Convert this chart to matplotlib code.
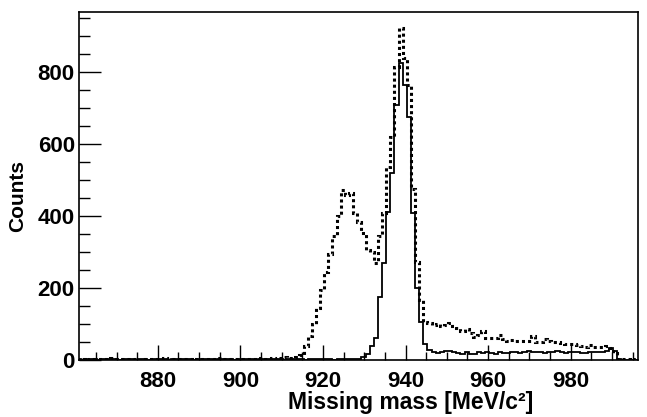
import numpy as np
import matplotlib
matplotlib.use("Agg")
import matplotlib.pyplot as plt
from matplotlib.ticker import MultipleLocator

# ---- data (1 MeV bins, first bin low edge) ----
first_edge = 860.3
bin_width = 1.0

dotted_low = [2, 3, 1, 2, 4, 3, 2, 3, 5, 2, 3, 2, 4, 3, 2, 1, 3, 2, 4, 3,
              2, 5, 3, 2, 3, 4, 2, 3, 1, 2, 3, 4, 2, 3, 5, 4, 3, 2, 3, 4,
              3, 2, 4, 3, 5, 3, 4, 6, 4, 5, 7, 6]
dotted_peak = [6, 8, 14, 38, 68, 100, 145, 195, 245, 295,
               345, 400, 472, 458, 463, 408, 384, 352, 305, 300,
               268, 343, 407, 537, 620, 815, 921, 840, 764, 475,
               273, 167, 106]
dotted_tail = [102, 98, 100, 94, 96, 102, 94, 88, 81, 85,
               74, 63, 70, 81, 60, 62, 60, 70, 57, 54,
               56, 54, 54, 52, 54, 67, 51, 51, 57, 54,
               49, 51, 47, 44, 44, 44, 41, 39, 37, 42,
               37, 35, 37, 39, 32, 19]
dotted_end = [3, 2, 2, 1, 2]

solid_low = [2, 1, 3, 2, 2, 1, 3, 2, 4, 2, 1, 2, 3, 2, 1, 2, 3, 1, 2, 2,
             3, 2, 1, 3, 2, 2, 4, 2, 1, 2, 3, 2, 2, 1, 3, 2, 2, 3, 1, 2,
             2, 3, 2, 1, 2, 3, 2, 2, 3, 2, 1, 2, 3, 2, 2, 1, 2, 3, 2, 2,
             3, 2, 1, 2, 3, 2, 2, 3]
solid_peak = [4, 7, 18, 40, 60, 176, 268, 412, 519, 708,
              825, 764, 676, 408, 199, 106, 45, 28]
solid_tail = [21, 20, 23, 24, 26, 21, 20, 18, 21, 18,
              17, 23, 20, 23, 20, 17, 21, 20, 19, 22,
              21, 20, 22, 24, 23, 21, 22, 20, 21, 23,
              24, 22, 20, 21, 22, 22, 20, 19, 23, 21,
              22, 22, 24, 34, 25]
solid_end = [3, 1, 0, 1, 0]

dotted = np.array(dotted_low + dotted_peak + dotted_tail + dotted_end, float)
solid = np.array(solid_low + solid_peak + solid_tail + solid_end, float)
edges_d = first_edge + bin_width * np.arange(len(dotted) + 1)
edges_s = first_edge + bin_width * np.arange(len(solid) + 1)

x_ticks = [880, 900, 920, 940, 960, 980]
y_ticks = [0, 200, 400, 600, 800]

# ---- figure ----
plt.rcParams['font.family'] = ['Liberation Sans', 'DejaVu Sans']
plt.rcParams['font.weight'] = 'bold'
fig = plt.figure(figsize=(6.47, 4.17), dpi=100)
ax = fig.add_axes([79 / 647, 1 - 360 / 417, (638 - 79) / 647, (360 - 12.5) / 417])

ax.stairs(dotted, edges_d, color='black', linewidth=2.2,
          linestyle=(0, (1.0, 1.0)))
ax.stairs(solid, edges_s, color='black', linewidth=1.3)

ax.set_xlim(860.9, 996.3)
ax.set_ylim(0, 965)

ax.set_xticks(x_ticks)
ax.set_yticks(y_ticks)
ax.xaxis.set_minor_locator(MultipleLocator(5))
ax.yaxis.set_minor_locator(MultipleLocator(50))
ax.tick_params(axis='x', which='major', direction='in', length=11, width=1.0,
               labelsize=16, pad=8, top=False)
ax.tick_params(axis='x', which='minor', direction='in', length=5.5, width=1.0, top=False)
ax.tick_params(axis='y', which='major', direction='in', length=16, width=1.0,
               labelsize=16, pad=3, right=False)
ax.tick_params(axis='y', which='minor', direction='in', length=8, width=1.0, right=False)
for lab in ax.get_xticklabels() + ax.get_yticklabels():
    lab.set_fontweight('bold')

for sp in ax.spines.values():
    sp.set_linewidth(1.2)

ax.set_xlabel('Missing mass [MeV/c²]', fontsize=16.5, fontweight='bold')
ax.xaxis.set_label_coords(0.594, -0.09)
ax.set_ylabel('Counts', fontsize=15, fontweight='bold')
ax.yaxis.set_label_coords(-0.093, 0.472)

fig.savefig('out.png', dpi=100)
